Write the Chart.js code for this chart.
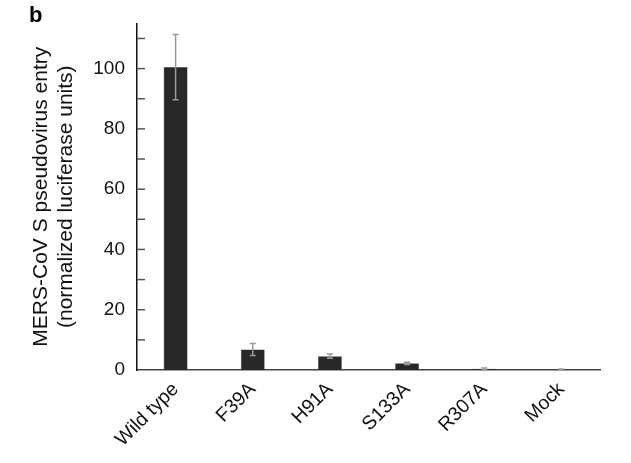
<!DOCTYPE html>
<html>
<head>
<meta charset="utf-8">
<script src="https://cdn.jsdelivr.net/npm/chart.js@4"></script>
<style>
  html, body { margin: 0; padding: 0; background: #fff; }
  canvas { display: block; }
</style>
</head>
<body>
<canvas id="chart" width="631" height="463"></canvas>
<script>
// values
const categories = ['Wild type', 'F39A', 'H91A', 'S133A', 'R307A', 'Mock'];
const entryMeans = [100.5, 6.8, 4.6, 2.2, 0.4, 0.2];
const entryErrors = [10.8, 2.0, 0.7, 0.4, 0.3, 0.1];
const yTickValues = [0, 10, 20, 30, 40, 50, 60, 70, 80, 90, 100, 110];

const FONT = '"Liberation Sans", Arial, sans-serif';

// error bars, drawn from the y scale
const errorBars = {
    id: 'errorBars',
    afterDatasetsDraw(chart) {
        const ctx = chart.ctx;
        const y = chart.scales.y;
        const meta = chart.getDatasetMeta(0);
        ctx.save();
        ctx.strokeStyle = '#9a9a9a';
        ctx.lineWidth = 1.5;
        meta.data.forEach((bar, i) => {
            const top = y.getPixelForValue(entryMeans[i] + entryErrors[i]);
            const bot = y.getPixelForValue(Math.max(0, entryMeans[i] - entryErrors[i]));
            ctx.beginPath();
            ctx.moveTo(bar.x, top);
            ctx.lineTo(bar.x, bot);
            ctx.moveTo(bar.x - 3, top);
            ctx.lineTo(bar.x + 3, top);
            ctx.moveTo(bar.x - 3, bot);
            ctx.lineTo(bar.x + 3, bot);
            ctx.stroke();
        });
        ctx.restore();
    }
};

// ticks pointing into the plot, plus the panel letter
const extras = {
    id: 'extras',
    afterDraw(chart) {
        const ctx = chart.ctx;
        const y = chart.scales.y;
        ctx.save();
        ctx.strokeStyle = '#555';
        ctx.lineWidth = 1.5;
        y.ticks.forEach(t => {
            const py = y.getPixelForValue(t.value);
            if (t.value === 0) return;
            ctx.beginPath();
            ctx.moveTo(y.right, py);
            ctx.lineTo(y.right + 8, py);
            ctx.stroke();
        });
        ctx.fillStyle = '#000';
        ctx.font = 'bold 22px ' + FONT;
        ctx.textBaseline = 'alphabetic';
        ctx.fillText('b', 29, 22);
        ctx.restore();
    }
};

new Chart(document.getElementById('chart').getContext('2d'), {
    type: 'bar',
    data: {
        labels: categories,
        datasets: [{
            data: entryMeans,
            backgroundColor: '#282828',
            borderColor: '#3a3a3a',
            borderWidth: 0.5,
            barPercentage: 0.62,
            categoryPercentage: 0.5
        }]
    },
    options: {
        responsive: false,
        animation: false,
        devicePixelRatio: 1,
        layout: { padding: { top: 22, right: 31, left: 29, bottom: 0 } },
        plugins: {
            legend: { display: false },
            tooltip: { enabled: false }
        },
        scales: {
            x: {
                grid: { display: false, drawTicks: false },
                border: { display: true, color: '#444', width: 1.5 },
                ticks: {
                    autoSkip: false,
                    minRotation: 45,
                    maxRotation: 45,
                    padding: 8,
                    color: '#111',
                    font: { family: FONT, size: 19.5 }
                },
                afterFit(scale) { scale.height = 93; }
            },
            y: {
                min: 0,
                max: 115,
                afterBuildTicks(scale) {
                    scale.ticks = yTickValues.map(v => ({ value: v }));
                },
                grid: { display: false, drawTicks: false },
                border: { display: true, color: '#111', width: 1.5 },
                ticks: {
                    padding: 12,
                    color: '#111',
                    font: { family: FONT, size: 19 },
                    callback: v => (v % 20 === 0 ? v : '')
                },
                title: {
                    display: true,
                    text: ['MERS-CoV S pseudovirus entry', '(normalized luciferase units)'],
                    color: '#111',
                    font: { family: FONT, size: 21, lineHeight: 1.18 },
                    padding: { top: 0, bottom: 10 }
                },
                afterFit(scale) { scale.width = 108; }
            }
        }
    },
    plugins: [errorBars, extras]
});
</script>
</body>
</html>
